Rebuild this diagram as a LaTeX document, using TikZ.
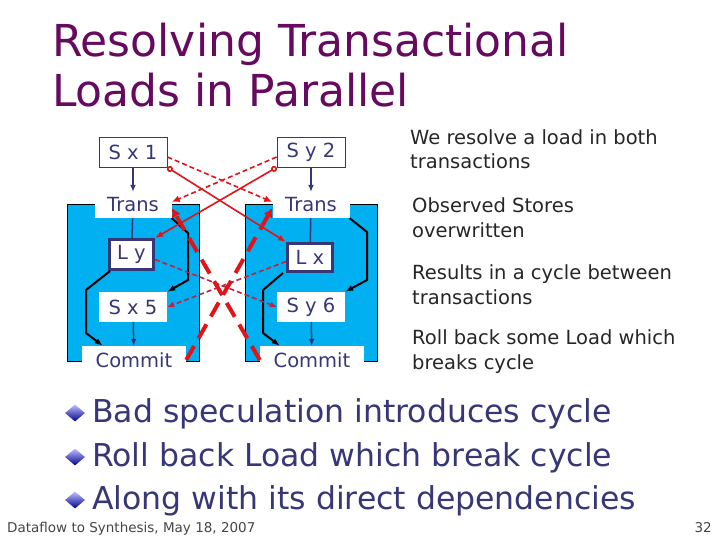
\documentclass[tikz,border=0pt]{standalone}
\usepackage{fontspec}
\setmainfont{DejaVu Sans}
\usepackage{tikz}
\usetikzlibrary{arrows.meta,positioning,calc,shapes.geometric}
\definecolor{titlepurple}{RGB}{102,10,96}
\definecolor{inkblue}{RGB}{55,55,120}
\definecolor{txfill}{RGB}{0,176,240}
\definecolor{confred}{RGB}{225,20,25}
\definecolor{deprred}{RGB}{190,35,70}
\definecolor{footgray}{RGB}{70,70,70}

\begin{document}
\begin{tikzpicture}[x=1pt,y=-1pt,>=Latex,font=\fontsize{19.5}{24.5}\selectfont,
  lbl/.style={text=inkblue,inner sep=0pt,minimum height=30pt},
  wbox/.style={lbl,fill=white},
  sbox/.style={wbox,draw=inkblue,line width=0.8pt,minimum width=68pt},
  ldbox/.style={wbox,draw=inkblue,line width=3pt},
  txn/.style={fill=txfill,draw=black,line width=0.8pt,inner sep=0pt,minimum width=132pt,minimum height=157pt},
  flow/.style={-{Latex[length=7pt,width=6pt]},inkblue,line width=1.5pt},
  order/.style={-{Latex[length=8pt,width=6pt]},black,line width=2pt},
  conf/.style={{Circle[open,length=6pt]}-{Latex[length=8pt,width=6pt]},confred,line width=1.6pt},
  rd/.style={-{Latex[length=8pt,width=7pt]},confred,line width=1.6pt,dash pattern=on 5pt off 3pt},
  dep/.style={-{Latex[length=7pt,width=6pt]},deprred,line width=1.6pt,dash pattern=on 5pt off 3pt},
  cyc/.style={-{Latex[length=9pt,width=10pt]},confred,line width=4pt,dash pattern=on 16pt off 9pt},
  note/.style={anchor=base west,align=left,inner sep=0pt,text=black!85},
  bul/.style={diamond,inner sep=0pt,minimum width=20pt,minimum height=17pt,top color=blue!25!white,bottom color=blue!55!black}]
\fill[white] (0,0) rectangle (720,540);
\useasboundingbox (0,0) rectangle (720,540);
% title (base = last line)
\node[anchor=base west,align=left,inner sep=0pt,text=titlepurple,font=\fontsize{44}{50}\selectfont] (title) at (52,107) {Resolving Transactional\\Loads in Parallel};
% two transactions
\node[txn] (txl) at (133,282.5) {};
\node[txn] (txr) at (311.5,282.5) {};
\node[sbox] (sx1) at (133,152) {S x 1};
\node[sbox] (sy2) at (311,152) {S y 2};
\node[wbox,minimum width=77pt,minimum height=26pt] (transl) at (133,205) {Trans};
\node[wbox,minimum width=77pt,minimum height=26pt] (transr) at (311,205) {Trans};
\node[ldbox,minimum width=44pt] (ly) at (131.5,254.5) {L y};
\node[ldbox,minimum width=45pt,minimum height=28pt] (lx) at (310,257.5) {L x};
\node[wbox,minimum width=68pt] (sx5) at (133,307) {S x 5};
\node[wbox,minimum width=68pt] (sy6) at (311,307) {S y 6};
\node[wbox,minimum width=104pt,minimum height=28pt] (cml) at (134,360) {Commit};
\node[wbox,minimum width=104pt,minimum height=28pt] (cmr) at (312,360) {Commit};
% program order
\draw[flow] (sx1) -- (transl);
\draw[inkblue,line width=1.5pt] (transl) -- (ly);
\draw[flow] (sx5) -- (cml);
\draw[flow] (sy2) -- (transr);
\draw[inkblue,line width=1.5pt] (transr) -- (lx);
\draw[flow] (sy6) -- (cmr);
\draw[order] ([xshift=2pt]ly.south west) -- (86,290) -- (86,333) -- ([xshift=21pt]cml.north west);
\draw[order] (transl.south east) -- (188,233) -- (188,280) -- (sx5.north east);
\draw[order] ([xshift=-3pt]lx.south west) -- (263,290) -- (263,333) -- ([xshift=20pt]cmr.north west);
\draw[order] (transr.south east) -- (367,232) -- (367,280) -- (sy6.north east);
% loads and stores across
\draw[rd] ([yshift=-5pt]sx1.east) -- ([yshift=3pt]transr.west);
\draw[rd] ([yshift=-5pt]sy2.west) -- ([yshift=3pt]transl.east);
\draw[conf] (sx1.south east) -- (lx.north west);
\draw[conf] (sy2.south west) -- (ly.north east);
\draw[dep] ([yshift=-5pt]ly.east) -- (sy6.west);
\draw[dep] ([yshift=-4pt]lx.west) -- (sx5.east);
% the cycle
\draw[cyc] (cml.east) -- ([yshift=-3pt]transr.west);
\draw[cyc] (cmr.west) -- ([yshift=-3pt]transl.east);
% notes (base = last line)
\node[note] (n1) at (410,169) {We resolve a load in both\\transactions};
\node[note] (n2) at (412,237) {Observed Stores\\overwritten};
\node[note] (n3) at (412,304) {Results in a cycle between\\transactions};
\node[note] (n4) at (412,369) {Roll back some Load which\\breaks cycle};
% bullets
\node[bul] (b1) at (75,413) {};
\node[bul] (b2) at (75,457) {};
\node[bul] (b3) at (75,500) {};
\node[note,text=inkblue,font=\fontsize{31.5}{36}\selectfont] (t1) at (92,422) {Bad speculation introduces cycle};
\node[note,text=inkblue,font=\fontsize{31.5}{36}\selectfont] (t2) at (92,466) {Roll back Load which break cycle};
\node[note,text=inkblue,font=\fontsize{31.5}{36}\selectfont] (t3) at (92,509) {Along with its direct dependencies};
% footer
\node[anchor=base west,inner sep=0pt,text=footgray,font=\fontsize{13.5}{16}\selectfont] (foot) at (7,532) {Dataflow to Synthesis, May 18, 2007};
\node[anchor=base east,inner sep=0pt,text=footgray,font=\fontsize{13.5}{16}\selectfont] (page) at (712,532) {32};
\end{tikzpicture}
\end{document}
